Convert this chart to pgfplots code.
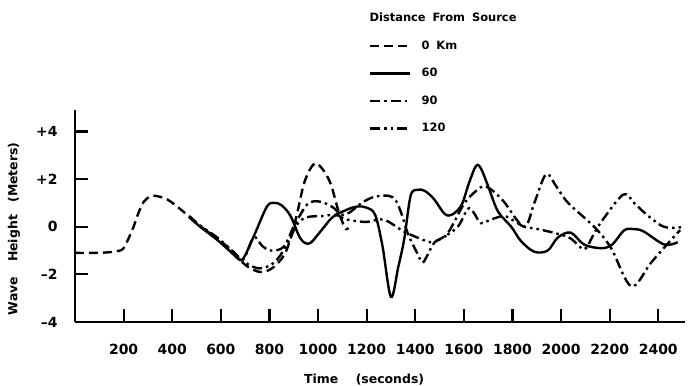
\documentclass[border=0pt]{standalone}
\usepackage{pgfplots}
\pgfplotsset{compat=1.18}
\usepackage{fontspec}
\setmainfont{DejaVu Sans}
\begin{document}
\begin{tikzpicture}
\path[use as bounding box] (-75bp,-64bp) rectangle (615bp,322bp);
\begin{axis}[
  at={(0,0)}, anchor=south west,
  width=610bp, height=212bp, scale only axis,
  xmin=0, xmax=2510, ymin=-4, ymax=4.9,
  clip=false,
  axis x line=bottom, axis y line=left,
  axis line style={-, line width=2.2pt},
  tick align=inside, major tick length=13bp,
  tick style={line width=2.2pt, black},
  xtick={200,400,600,800,1000,1200,1400,1600,1800,2000,2200,2400},
  xticklabels={200,400,600,800,1000,1200,1400,1600,1800,2000,2200,2400},
  ytick={-4,-2,0,2,4},
  yticklabels={\textendash4,\textendash2,0,+2,+4},
  ticklabel style={font=\bfseries\fontsize{14}{14}\selectfont},
  xticklabel style={yshift=-19bp},
  yticklabel style={xshift=-14bp},
  xlabel={Time\hspace{1.4em}(seconds)},
  ylabel={Wave\hspace{1.2em}Height\hspace{1em}(Meters)},
  label style={font=\bfseries\fontsize{12.5}{12.5}\selectfont},
  xlabel style={at={(axis description cs:0.474,-0.274)}, anchor=center},
  ylabel style={at={(axis description cs:-0.1,0.44)}, anchor=center},
  legend style={at={(axis description cs:0.477,1.472)}, anchor=north west,
    draw=none, fill=none, font=\bfseries\fontsize{11.5}{11.5}\selectfont,
    row sep=15.5bp, column sep=9bp, nodes={inner sep=1bp}},
  legend cell align=left,
  legend image code/.code={\draw[#1] (0bp,0bp) -- (40bp,0bp);},
  every axis plot/.append style={line width=2.4bp, smooth, tension=0.55, black},
]
\addlegendimage{empty legend}
\addlegendentry{\hspace{-52bp}Distance\hspace{0.6em}From\hspace{0.6em}Source}

% 0 km dashed
\addplot[dash pattern=on 9bp off 5bp] coordinates {
(0,-1.1)(60,-1.1)(130,-1.08)(175,-1.02)(198,-0.93)(220,-0.5)(241,0.0)(262,0.6)(283,1.05)(310,1.28)(330,1.3)(379,1.15)(433,0.74)(475,0.38)(515,0.03)(585,-0.5)(652,-1.05)(700,-1.6)(760,-1.9)(810,-1.75)(860,-1.2)(890,-0.4)(915,0.6)(945,1.9)(985,2.65)(1020,2.4)(1052,1.8)(1080,0.8)(1100,0.2)(1115,-0.1)(1125,-0.05)
};
\addlegendentry{0\hspace{0.6em}Km}

% 60 km solid
\addplot[solid] coordinates {
(470,0.4)(515,0.0)(585,-0.55)(640,-1.05)(680,-1.4)(700,-1.2)(740,-0.3)(790,0.85)(820,1.0)(850,0.9)(887,0.45)(928,-0.5)(965,-0.7)(1010,-0.2)(1060,0.4)(1120,0.72)(1162,0.85)(1200,0.8)(1235,0.5)(1265,-0.8)(1300,-2.95)(1330,-1.7)(1355,-0.5)(1381,1.3)(1410,1.55)(1440,1.5)(1478,1.15)(1520,0.55)(1550,0.5)(1590,0.9)(1620,1.8)(1650,2.55)(1670,2.45)(1700,1.7)(1740,0.65)(1795,0.0)(1835,-0.6)(1890,-1.05)(1945,-1.0)(1987,-0.45)(2040,-0.25)(2095,-0.75)(2165,-0.9)(2210,-0.75)(2260,-0.15)(2300,-0.1)(2340,-0.2)(2425,-0.75)(2480,-0.65)
};
\addlegendentry{60}

% 90 km dash-dot
\addplot[dash pattern=on 10bp off 4bp on 2.5bp off 4bp] coordinates {
(470,0.42)(515,0.02)(585,-0.5)(640,-1.0)(690,-1.4)(735,-0.45)(770,-0.8)(805,-1.0)(858,-0.85)(900,0.0)(957,0.95)(1010,1.05)(1063,0.8)(1095,0.5)(1130,0.6)(1180,1.0)(1230,1.25)(1290,1.3)(1320,1.1)(1345,0.5)(1370,-0.3)(1410,-1.15)(1430,-1.5)(1450,-1.2)(1480,-0.65)(1532,-0.3)(1600,0.95)(1650,1.5)(1683,1.7)(1720,1.5)(1765,1.05)(1848,0.0)(1890,1.0)(1938,2.2)(1980,1.7)(2029,1.0)(2136,0.0)(2206,-0.9)(2289,-2.5)(2371,-1.5)(2466,-0.4)(2490,-0.15)
};
\addlegendentry{90}

% 120 km dash-dot-dot
\addplot[dash pattern=on 10bp off 4bp on 2.5bp off 4bp on 2.5bp off 4bp] coordinates {
(470,0.45)(515,0.05)(585,-0.45)(640,-0.95)(700,-1.5)(760,-1.75)(820,-1.5)(870,-0.8)(914,0.1)(955,0.4)(1022,0.45)(1072,0.5)(1120,0.3)(1200,0.2)(1270,0.3)(1353,-0.2)(1420,-0.5)(1464,-0.65)(1505,-0.5)(1575,0.0)(1616,0.75)(1640,0.6)(1670,0.15)(1711,0.3)(1765,0.45)(1806,0.25)(1848,0.0)(1905,-0.1)(1987,-0.3)(2041,-0.5)(2095,-0.95)(2130,-0.4)(2165,0.2)(2256,1.35)(2300,1.0)(2342,0.6)(2412,0.05)(2460,-0.05)(2507,0.0)
};
\addlegendentry{120}
\end{axis}
\end{tikzpicture}
\end{document}
